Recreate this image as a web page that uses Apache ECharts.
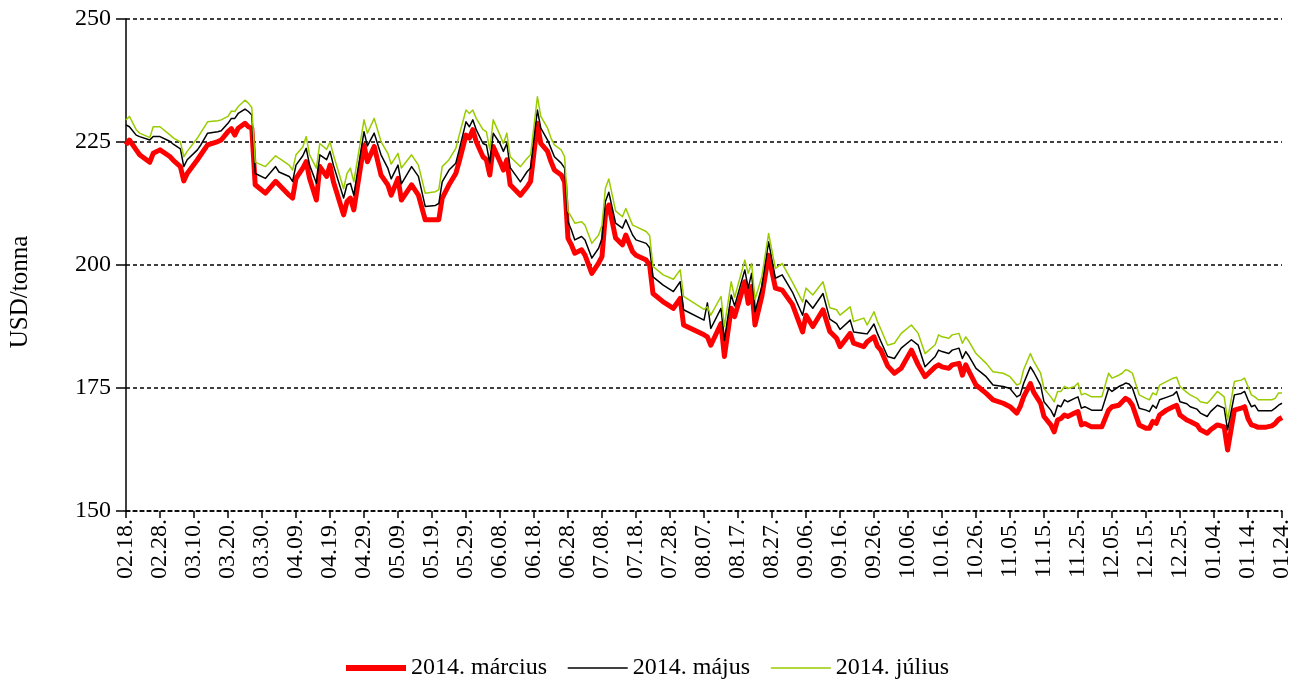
<!DOCTYPE html>
<html>
<head>
<meta charset="utf-8">
<title>USD/tonna</title>
<script src="https://cdn.jsdelivr.net/npm/echarts@6/dist/echarts.min.js"></script>
<style>
    html, body { margin: 0; padding: 0; background: #fff; }
    #main { width: 1310px; height: 686px; }
</style>
</head>
<body>
<div id="main"></div>
<script>
// Jegyzési napok (2013.02.18. - 2014.01.24.)
const dates = [
    '02.18.', '02.19.', '02.21.', '02.22.', '02.25.', '02.26.', '02.28.', '03.03.', '03.04.', '03.06.',
    '03.07.', '03.08.', '03.11.', '03.12.', '03.14.', '03.17.', '03.18.', '03.20.', '03.21.', '03.22.',
    '03.23.', '03.25.', '03.26.', '03.27.', '03.28.', '03.31.', '04.03.', '04.04.', '04.07.', '04.08.',
    '04.09.', '04.11.', '04.12.', '04.13.', '04.15.', '04.16.', '04.18.', '04.19.', '04.20.', '04.23.',
    '04.24.', '04.25.', '04.26.', '04.29.', '04.30.', '05.02.', '05.04.', '05.06.', '05.07.', '05.09.',
    '05.10.', '05.13.', '05.15.', '05.17.', '05.20.', '05.21.', '05.22.', '05.24.', '05.26.', '05.27.',
    '05.29.', '05.30.', '05.31.', '06.01.', '06.03.', '06.04.', '06.05.', '06.06.', '06.08.', '06.09.',
    '06.10.', '06.11.', '06.14.', '06.16.', '06.17.', '06.19.', '06.20.', '06.22.', '06.23.', '06.24.',
    '06.26.', '06.27.', '06.28.', '06.29.', '06.30.', '07.02.', '07.03.', '07.05.', '07.07.', '07.08.',
    '07.09.', '07.10.', '07.12.', '07.14.', '07.15.', '07.17.', '07.18.', '07.21.', '07.22.', '07.23.',
    '07.26.', '07.29.', '07.31.', '08.01.', '08.07.', '08.08.', '08.09.', '08.12.', '08.13.', '08.15.',
    '08.16.', '08.19.', '08.20.', '08.21.', '08.22.', '08.24.', '08.26.', '08.28.', '08.30.', '09.02.',
    '09.05.', '09.06.', '09.08.', '09.11.', '09.13.', '09.15.', '09.16.', '09.19.', '09.20.', '09.23.',
    '09.24.', '09.26.', '09.27.', '09.28.', '09.30.', '10.02.', '10.04.', '10.07.', '10.09.', '10.11.',
    '10.14.', '10.15.', '10.16.', '10.18.', '10.19.', '10.21.', '10.22.', '10.23.', '10.24.', '10.26.',
    '10.29.', '10.31.', '11.03.', '11.05.', '11.07.', '11.08.', '11.09.', '11.11.', '11.12.', '11.14.',
    '11.15.', '11.17.', '11.18.', '11.19.', '11.20.', '11.21.', '11.22.', '11.24.', '11.25.', '11.26.',
    '11.27.', '11.29.', '12.02.', '12.04.', '12.05.', '12.07.', '12.08.', '12.09.', '12.10.', '12.11.',
    '12.13.', '12.15.', '12.16.', '12.17.', '12.18.', '12.19.', '12.21.', '12.23.', '12.24.', '12.25.',
    '12.27.', '12.28.', '12.30.', '12.31.', '01.02.', '01.03.', '01.05.', '01.07.', '01.08.', '01.10.',
    '01.12.', '01.13.', '01.14.', '01.15.', '01.16.', '01.17.', '01.19.', '01.21.', '01.22.', '01.23.',
    '01.24.'
];

// 2014. március lejárat
const marcius = [
    224.4, 225.4, 223.4, 222.4, 220.9, 222.7, 223.4, 222.0, 221.2, 220.0,
    217.1, 218.6, 221.4, 222.4, 224.4, 225.1, 225.4, 227.1, 227.7, 226.4,
    227.8, 228.8, 228.1, 227.8, 216.3, 214.6, 217.0, 216.3, 214.2, 213.6,
    217.6, 219.7, 221.0, 217.6, 213.2, 220.0, 218.0, 220.3, 216.9, 210.2,
    212.9, 213.6, 211.2, 224.4, 221.0, 224.1, 218.3, 216.3, 214.2, 217.6,
    213.2, 216.3, 214.2, 209.2, 209.2, 209.2, 213.6, 216.3, 218.6, 221.0,
    226.4, 225.8, 227.5, 225.1, 222.0, 221.4, 218.3, 224.1, 221.0, 219.3,
    221.4, 216.3, 214.2, 215.9, 217.0, 228.8, 224.7, 223.1, 221.0, 219.3,
    218.3, 216.9, 205.4, 204.1, 202.4, 203.1, 202.0, 198.3, 200.4, 201.7,
    210.2, 212.2, 205.5, 204.1, 206.1, 202.7, 202.0, 201.0, 200.0, 194.2,
    192.5, 191.2, 193.2, 187.8, 185.8, 185.4, 183.7, 188.1, 181.4, 191.2,
    189.5, 196.6, 192.2, 195.6, 187.8, 193.6, 202.0, 195.3, 194.9, 192.0,
    186.4, 189.8, 187.5, 190.9, 186.5, 185.1, 183.4, 186.1, 184.1, 183.4,
    184.4, 185.4, 183.5, 182.7, 179.5, 178.0, 179.0, 182.7, 179.7, 177.3,
    179.3, 179.7, 179.3, 179.0, 179.7, 180.0, 177.6, 179.7, 178.3, 175.6,
    173.9, 172.6, 171.9, 171.2, 169.9, 171.2, 173.2, 175.9, 174.1, 171.9,
    169.2, 167.5, 166.1, 168.5, 168.8, 169.5, 169.2, 169.9, 170.2, 167.5,
    167.8, 167.1, 167.1, 170.5, 171.2, 171.5, 172.2, 172.9, 172.5, 171.5,
    167.5, 166.8, 166.8, 168.2, 167.8, 169.5, 170.5, 171.2, 171.5, 169.5,
    168.5, 168.2, 167.5, 166.5, 165.8, 166.5, 167.5, 167.1, 162.4, 170.5,
    170.9, 171.2, 168.8, 167.5, 167.3, 167.0, 167.0, 167.3, 167.8, 168.6,
    169.0
];

// 2014. május lejárat
const majus = [
    228.5, 228.1, 226.4, 226.1, 225.4, 226.1, 226.1, 225.1, 224.5, 223.6,
    220.0, 221.4, 223.4, 224.4, 226.8, 227.1, 227.3, 228.8, 229.8, 229.8,
    230.8, 231.7, 231.2, 230.5, 218.6, 217.6, 220.0, 218.9, 218.0, 217.0,
    220.3, 222.2, 223.7, 220.3, 216.6, 222.4, 221.4, 223.1, 220.3, 213.6,
    216.3, 216.6, 214.2, 227.1, 224.2, 226.8, 222.4, 219.7, 217.5, 220.3,
    216.5, 220.0, 218.0, 211.9, 212.1, 212.5, 216.9, 219.3, 220.7, 223.4,
    229.1, 228.1, 229.5, 227.5, 224.7, 224.4, 220.7, 226.8, 224.7, 223.1,
    224.7, 219.8, 216.9, 219.0, 219.7, 231.5, 227.8, 225.4, 223.7, 222.0,
    220.7, 219.7, 208.8, 207.1, 205.1, 205.8, 205.1, 201.4, 203.4, 205.4,
    212.9, 214.8, 208.5, 207.5, 209.2, 206.1, 205.1, 204.4, 203.5, 197.6,
    195.9, 194.6, 196.6, 190.9, 188.8, 192.3, 187.1, 191.2, 184.7, 193.9,
    191.7, 199.0, 195.3, 198.3, 190.5, 195.6, 204.7, 197.3, 198.0, 194.5,
    189.8, 192.9, 191.2, 194.2, 189.0, 188.1, 186.9, 188.8, 186.4, 186.1,
    186.0, 188.0, 186.1, 184.5, 181.4, 181.0, 183.1, 184.8, 183.7, 179.3,
    181.4, 182.7, 182.4, 182.0, 182.7, 183.1, 181.0, 182.4, 181.4, 179.0,
    177.3, 175.6, 175.3, 174.9, 173.2, 173.6, 175.9, 179.3, 178.2, 175.6,
    172.2, 170.5, 169.2, 171.5, 171.2, 172.6, 172.2, 172.9, 173.2, 170.9,
    171.2, 170.5, 170.5, 174.9, 174.3, 175.3, 175.6, 176.0, 175.8, 175.0,
    170.9, 170.5, 170.2, 171.5, 170.9, 172.6, 173.1, 173.6, 174.3, 172.2,
    171.8, 171.2, 170.7, 169.9, 169.2, 170.2, 171.5, 170.9, 166.5, 173.6,
    173.9, 174.3, 172.6, 171.2, 171.5, 170.4, 170.4, 170.4, 170.9, 171.5,
    171.9
];

// 2014. július lejárat
const julius = [
    229.5, 230.2, 227.5, 226.8, 225.9, 228.1, 228.1, 226.4, 225.8, 225.0,
    222.0, 223.1, 225.8, 226.9, 229.1, 229.3, 229.5, 230.2, 231.3, 231.2,
    232.2, 233.5, 232.9, 232.0, 220.9, 220.0, 222.2, 221.7, 220.3, 219.3,
    222.4, 224.0, 226.1, 222.4, 219.7, 224.7, 223.5, 225.0, 222.4, 215.5,
    218.6, 219.7, 216.9, 229.5, 226.8, 229.8, 225.1, 222.7, 220.5, 222.7,
    219.7, 222.4, 220.3, 214.6, 214.9, 215.3, 220.0, 221.4, 223.7, 226.4,
    231.5, 230.8, 231.5, 229.8, 227.5, 227.1, 223.4, 229.5, 226.4, 224.7,
    226.8, 222.0, 220.0, 221.7, 222.4, 234.2, 230.2, 227.8, 225.8, 224.4,
    223.4, 222.0, 210.9, 209.8, 208.5, 208.8, 208.1, 204.4, 206.1, 208.1,
    215.6, 217.5, 211.0, 209.8, 211.5, 208.1, 207.8, 206.8, 206.0, 199.7,
    198.0, 197.1, 199.0, 193.6, 191.0, 191.5, 189.8, 193.6, 187.5, 196.6,
    193.4, 201.0, 198.3, 200.3, 193.0, 197.6, 206.4, 199.3, 200.3, 196.5,
    192.5, 195.3, 193.9, 196.6, 191.3, 190.9, 189.8, 191.5, 188.5, 189.2,
    187.8, 190.5, 188.5, 187.0, 183.7, 184.1, 186.1, 187.8, 186.1, 182.0,
    183.8, 185.8, 185.4, 185.1, 185.8, 186.1, 184.1, 185.4, 184.4, 182.0,
    180.0, 178.3, 178.0, 177.3, 175.6, 175.9, 178.7, 182.0, 180.4, 178.0,
    174.9, 173.2, 172.2, 174.3, 174.3, 175.3, 174.9, 175.3, 176.0, 173.6,
    173.9, 173.2, 173.2, 178.0, 177.0, 177.6, 178.0, 178.7, 178.5, 178.0,
    173.6, 172.9, 172.6, 174.0, 173.6, 175.6, 176.3, 177.0, 177.2, 175.3,
    174.1, 173.6, 172.9, 172.2, 171.9, 172.6, 174.3, 173.2, 168.5, 176.3,
    176.6, 177.0, 175.3, 173.6, 173.2, 172.6, 172.6, 172.6, 172.9, 174.0,
    174.0
];

const seriesNames = ['2014. március', '2014. május', '2014. július'];
const seriesColors = ['#ff0000', '#000000', '#99cc00'];
const seriesWidths = [5, 1.5, 1.5];

// Naptári napok a tengelyhez: 2013.02.18. -> 2014.01.24.
function buildDays(y, m, d, count) {
    const out = [];
    for (let i = 0; i < count; i++) {
        const dt = new Date(Date.UTC(y, m - 1, d + i));
        const mm = String(dt.getUTCMonth() + 1).padStart(2, '0');
        const dd = String(dt.getUTCDate()).padStart(2, '0');
        out.push(mm + '.' + dd + '.');
    }
    return out;
}
const days = buildDays(2013, 2, 18, 341);

const font = 'Liberation Serif';
const fontSize = 24;
const chart = echarts.init(document.getElementById('main'));

const series = [marcius, majus, julius].map(function (vals, k) {
    return {
        name: seriesNames[k],
        type: 'line',
        data: dates.map(function (d, i) { return [d, vals[i]]; }),
        showSymbol: false,
        symbol: 'none',
        lineStyle: { color: seriesColors[k], width: seriesWidths[k], join: 'round' },
        itemStyle: { color: seriesColors[k] }
    };
});

chart.setOption({
    backgroundColor: '#ffffff',
    animation: false,
    grid: { left: 124, right: 28, top: 19, bottom: 175, containLabel: false },
    legend: {
        bottom: 1,
        left: 338,
        itemWidth: 60,
        itemHeight: 8,
        itemGap: 20,
        itemStyle: { color: 'rgba(0,0,0,0)', borderWidth: 0, opacity: 0 },
        data: seriesNames.map(function (n, k) {
            return { name: n, lineStyle: { width: seriesWidths[k] === 5 ? 6 : 1.5 } };
        }),
        textStyle: { fontFamily: font, fontSize: fontSize, color: '#000' }
    },
    xAxis: {
        type: 'category',
        data: days,
        boundaryGap: false,
        axisLine: { show: true, lineStyle: { color: '#000', width: 1.5, type: [4, 3] } },
        axisTick: { show: true, interval: 9, length: 7, lineStyle: { color: '#000', width: 1.5 } },
        axisLabel: {
            interval: 9,
            rotate: 90,
            margin: 8,
            fontFamily: font,
            fontSize: fontSize,
            color: '#000'
        },
        splitLine: { show: false }
    },
    yAxis: {
        type: 'value',
        min: 150,
        max: 250,
        interval: 25,
        name: 'USD/tonna',
        nameLocation: 'middle',
        nameRotate: 90,
        nameGap: 93,
        nameTextStyle: { fontFamily: font, fontSize: 25, color: '#000', padding: [0, 54, 0, 0] },
        axisLine: { show: true, lineStyle: { color: '#000', width: 1.5 } },
        axisTick: { show: true, length: 10, lineStyle: { color: '#000', width: 1.5 } },
        axisLabel: { fontFamily: font, fontSize: fontSize, color: '#000', margin: 15 },
        splitLine: { show: true, lineStyle: { color: '#000', width: 1.5, type: [4, 3] } }
    },
    series: series
});
</script>
</body>
</html>
